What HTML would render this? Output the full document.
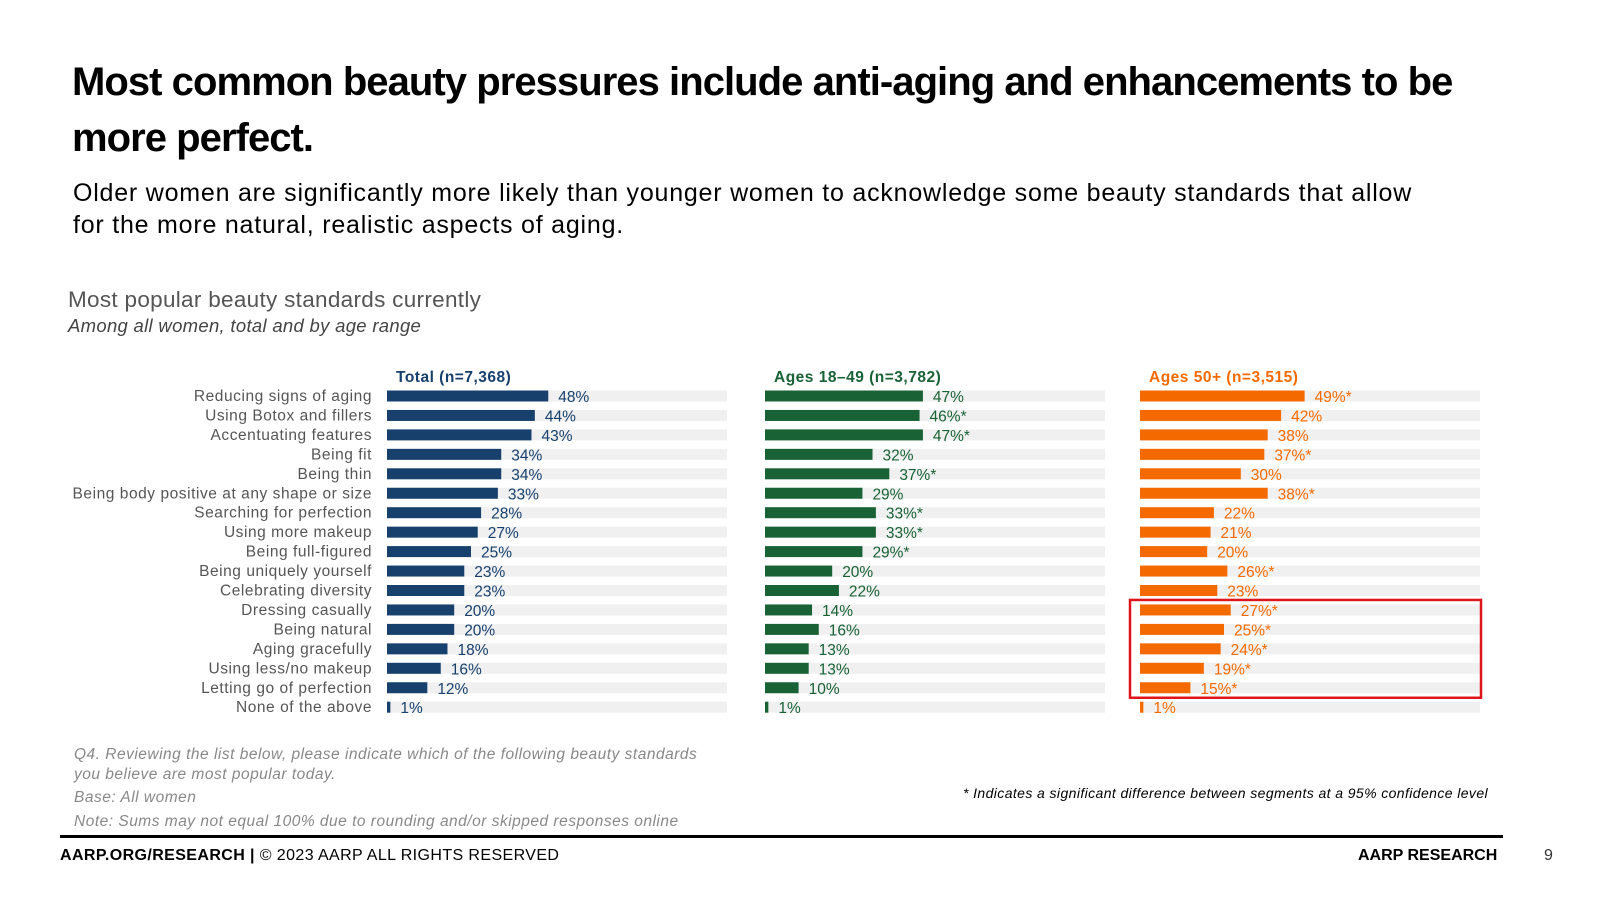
<!DOCTYPE html>
<html><head><meta charset="utf-8"><style>
body{margin:0;width:1600px;height:900px;background:#fff;font-family:"Liberation Sans",Arial,sans-serif;position:relative;overflow:hidden}
.a{position:absolute;white-space:nowrap}
</style></head><body>
<div class="a" style="left:72px;top:54px;font-size:40px;font-weight:bold;line-height:56px;color:#000;letter-spacing:-0.95px">Most common beauty pressures include anti-aging and enhancements to be<br>more perfect.</div>
<div class="a" style="left:73px;top:177px;font-size:25px;line-height:32px;color:#000;letter-spacing:0.78px">Older women are significantly more likely than younger women to acknowledge some beauty standards that allow<br>for the more natural, realistic aspects of aging.</div>
<div class="a" style="left:68px;top:287px;font-size:22.5px;color:#555;letter-spacing:0.3px">Most popular beauty standards currently</div>
<div class="a" style="left:68px;top:315px;font-size:18.5px;font-style:italic;color:#444;letter-spacing:0.3px">Among all women, total and by age range</div>
<svg id="chart" class="a" style="left:0;top:0" width="1600" height="900"></svg>
<div class="a" style="left:74px;top:745px;font-size:15.5px;font-style:italic;color:#888;line-height:20px;letter-spacing:0.5px">Q4. Reviewing the list below, please indicate which of the following beauty standards<br>you believe are most popular today.</div>
<div class="a" style="left:74px;top:789px;font-size:15.5px;font-style:italic;color:#888;letter-spacing:0.5px">Base: All women</div>
<div class="a" style="left:74px;top:813px;font-size:15.5px;font-style:italic;color:#888;letter-spacing:0.5px">Note: Sums may not equal 100% due to rounding and/or skipped responses online</div>
<div class="a" style="left:963px;top:785px;font-size:14px;font-style:italic;color:#000;letter-spacing:0.4px">* Indicates a significant difference between segments at a 95% confidence level</div>
<div class="a" style="left:60px;top:835px;width:1443px;height:3px;background:#000"></div>
<div class="a" style="left:60px;top:847px;font-size:16px;color:#000;letter-spacing:0.4px"><b>AARP.ORG/RESEARCH |</b> © 2023 AARP ALL RIGHTS RESERVED</div>
<div class="a" style="left:1358px;top:847px;font-size:16px;font-weight:bold;color:#000">AARP RESEARCH</div>
<div class="a" style="left:1544px;top:847px;font-size:16px;color:#333">9</div>
<script>
const categories=["Reducing signs of aging","Using Botox and fillers","Accentuating features","Being fit","Being thin","Being body positive at any shape or size","Searching for perfection","Using more makeup","Being full-figured","Being uniquely yourself","Celebrating diversity","Dressing casually","Being natural","Aging gracefully","Using less/no makeup","Letting go of perfection","None of the above"];
const totalValues=[48,44,43,34,34,33,28,27,25,23,23,20,20,18,16,12,1];
const youngValues=[47,46,47,32,37,29,33,33,29,20,22,14,16,13,13,10,1];
const youngSig=[0,1,1,0,1,0,1,1,1,0,0,0,0,0,0,0,0];
const olderValues=[49,42,38,37,30,38,22,21,20,26,23,27,25,24,19,15,1];
const olderSig=[1,0,0,1,0,1,0,0,0,1,0,1,1,1,1,1,0];
const seriesNames=["Total (n=7,368)","Ages 18\u201349 (n=3,782)","Ages 50+ (n=3,515)"];
const NS="http://www.w3.org/2000/svg";
const svg=document.getElementById('chart');
function mk(t,a){const e=document.createElementNS(NS,t);for(const k in a)e.setAttribute(k,a[k]);svg.appendChild(e);return e;}
const pxPer=3.36, rowY=i=>396+i*19.45, barH=11;
const panels=[{x:387,c:"#17406d",v:totalValues,s:null},{x:765,c:"#186236",v:youngValues,s:youngSig},{x:1140,c:"#f56a00",v:olderValues,s:olderSig}];
const xs=(p,v)=>p.x+v*pxPer;
categories.forEach((c,i)=>{const t=mk('text',{x:372,y:rowY(i)+5,'text-anchor':'end','font-size':15.5,'letter-spacing':0.55,fill:'#555'});t.textContent=c;
});
panels.forEach((p,pi)=>{
 const h=mk('text',{x:p.x+9,y:382,'font-size':15.5,'font-weight':'bold','letter-spacing':0.5,fill:p.c});h.textContent=seriesNames[pi];
 
 p.v.forEach((v,i)=>{
  const tr=mk('rect',{x:p.x,y:rowY(i)-barH/2,width:340,height:barH,fill:'#f0f0f0'});
  
  const r=mk('rect',{x:p.x,y:rowY(i)-barH/2,width:Math.max(2,xs(p,v)-p.x),height:barH,fill:p.c});
  
  const l=mk('text',{x:Math.max(xs(p,v),p.x+2)+10,y:rowY(i)+6,'font-size':15.5,fill:p.c});
  l.textContent=v+'%'+(p.s&&p.s[i]?'*':'');
  
 });
});
const box=mk('rect',{x:1130,y:rowY(11)-10,width:351,height:rowY(15)-rowY(11)+20,fill:'none',stroke:'#e0141b','stroke-width':2.5});

</script>
</body></html>
